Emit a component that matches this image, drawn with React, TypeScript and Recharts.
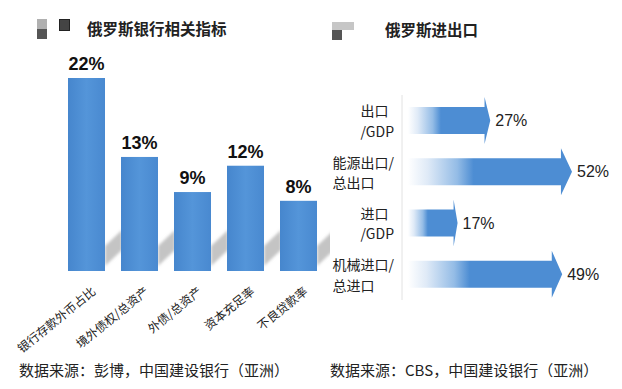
import React from "react";
import { BarChart, Bar, XAxis, YAxis, LabelList } from "recharts";

const bankCategories = ["银行存款外币占比", "境外债权/总资产", "外债/总资产", "资本充足率", "不良贷款率"];
const bankValues = [22, 13, 9, 12, 8];

const tradeCategories = ["出口\n/GDP", "能源出口/\n总出口", "进口\n/GDP", "机械进口/\n总进口"];
const tradeValues = [27, 52, 17, 49];

const bankData = bankCategories.map((name, i) => ({ name, value: bankValues[i] }));
const tradeData = tradeCategories.map((name, i) => ({ name, value: tradeValues[i] }));

const CJK = '"Noto Sans CJK SC", "Liberation Sans", sans-serif';
const LATIN = '"Liberation Sans", "Noto Sans CJK SC", sans-serif';
const BLUE = "#4d8dd3";

let measureCtx: CanvasRenderingContext2D | null = null;
function textWidth(s: string, font: string) {
  if (!measureCtx) measureCtx = document.createElement("canvas").getContext("2d");
  if (!measureCtx) return s.length * 15;
  measureCtx.font = font;
  return measureCtx.measureText(s).width;
}

// cast shadow + bar
const BankBar = (props: any) => {
  const { x, y, width, height } = props;
  const r = x + width;
  const b = y + height;
  return (
    <g>
      <polygon
        points={`${r},${b - 5} ${r},${b - 25} ${r + 17},${b - 41} ${r + 17},${b - 21}`}
        fill="#c4c4c4"
        filter="url(#soft)"
      />
      <rect x={x} y={y} width={width} height={height} fill="url(#barGrad)" />
    </g>
  );
};

const BankTick = (props: any) => {
  const { x, payload } = props;
  return (
    <text
      transform={`translate(${x + 10},${293}) rotate(-39)`}
      textAnchor="end"
      fontSize={12}
      fontFamily={CJK}
      fill="#222"
    >
      {payload.value}
    </text>
  );
};

const ArrowBar = (props: any) => {
  const { x, y, width, height } = props;
  const cy = y + height / 2;
  const x0 = x + 6;
  const tip = x + width;
  const head = Math.max(4, width * 0.065);
  const hb = tip - head;
  const body = 13.5;
  const half = height / 2;
  const d = `M${x0},${cy - body} L${hb},${cy - body} L${hb},${cy - half} L${tip},${cy} L${hb},${cy + half} L${hb},${cy + body} L${x0},${cy + body} Z`;
  return <path d={d} fill="url(#arrowGrad)" />;
};

const TradeTick = (props: any) => {
  const { y, payload } = props;
  const lines: string[] = String(payload.value).split("\n");
  const font = `14px ${CJK}`;
  const w = Math.max(...lines.map((l) => textWidth(l, font)));
  const left = 395 - 322 - w + 1;
  return (
    <g>
      {lines.map((l, i) => (
        <text
          key={i}
          x={left}
          y={y + (i - (lines.length - 1) / 2) * 20.5}
          dominantBaseline="central"
          fontSize={14}
          fontFamily={CJK}
          fill="#222"
        >
          {l}
        </text>
      ))}
    </g>
  );
};

const Icon = ({ left, top, wide }: { left: number; top: number; wide?: boolean }) => (
  <div style={{ position: "absolute", left, top }}>
    <div style={{ position: "absolute", left: 0, top: 0, width: wide ? 22 : 10, height: wide ? 8 : 10, background: wide ? "#c6c6c6" : "#b0b0b0" }} />
    <div style={{ position: "absolute", left: 0, top: wide ? 8 : 10, width: 10, height: 10, background: "#555" }} />
  </div>
);

export default function App() {
  return (
    <div style={{ position: "absolute", left: 0, top: 0, width: 622, height: 389, background: "#fff", overflow: "hidden" }}>
      <svg width={0} height={0} style={{ position: "absolute" }}>
        <defs>
          <filter id="soft" x="-50%" y="-50%" width="200%" height="200%">
            <feGaussianBlur stdDeviation="1.5" />
          </filter>
          <linearGradient id="barGrad" x1="0" y1="0" x2="1" y2="0">
            <stop offset="0" stopColor="#4686cd" />
            <stop offset="0.5" stopColor="#5495d9" />
            <stop offset="1" stopColor="#4989d0" />
          </linearGradient>
          <linearGradient id="arrowGrad" x1="0" y1="0" x2="1" y2="0">
            <stop offset="0" stopColor="#ffffff" />
            <stop offset="0.12" stopColor="#dfeaf7" />
            <stop offset="0.3" stopColor="#94bce6" />
            <stop offset="0.4" stopColor={BLUE} />
            <stop offset="1" stopColor={BLUE} />
          </linearGradient>
        </defs>
      </svg>

      <Icon left={37} top={19} />
      <div style={{ position: "absolute", left: 59, top: 19, width: 9, height: 10, background: "#444", border: "1px solid #222" }} />
      <div style={{ position: "absolute", left: 87, top: 18, fontFamily: CJK, fontSize: 15.5, fontWeight: 700, color: "#222", lineHeight: "20px" }}>
        俄罗斯银行相关指标
      </div>

      <Icon left={332} top={22} wide />
      <div style={{ position: "absolute", left: 385, top: 19, fontFamily: CJK, fontSize: 15.5, fontWeight: 700, color: "#222", lineHeight: "20px" }}>
        俄罗斯进出口
      </div>

      <div style={{ position: "absolute", left: 0, top: 0 }}>
        <BarChart width={330} height={389} data={bankData} margin={{ top: 78, right: 5, bottom: 88, left: 60 }}>
          <XAxis dataKey="name" axisLine={false} tickLine={false} interval={0} height={30} tick={<BankTick />} />
          <YAxis hide domain={[0, 22]} />
          <Bar dataKey="value" barSize={37} shape={<BankBar />} isAnimationActive={false}>
            <LabelList
              dataKey="value"
              position="top"
              offset={8}
              formatter={(v: any) => `${v}%`}
              style={{ fontFamily: LATIN, fontSize: 18, fontWeight: 700, fill: "#111" }}
            />
          </Bar>
        </BarChart>
      </div>

      <div style={{ position: "absolute", left: 320, top: 0 }}>
        <BarChart layout="vertical" width={302} height={389} data={tradeData} margin={{ top: 95, right: 50, bottom: 89, left: 2 }}>
          <XAxis type="number" hide domain={[0, 52]} />
          <YAxis
            type="category"
            dataKey="name"
            width={80}
            axisLine={{ stroke: "#e2e2e2" }}
            tickLine={false}
            tick={<TradeTick />}
          />
          <Bar dataKey="value" barSize={47} shape={<ArrowBar />} isAnimationActive={false}>
            <LabelList
              dataKey="value"
              position="right"
              offset={5}
              formatter={(v: any) => `${v}%`}
              style={{ fontFamily: LATIN, fontSize: 16, fill: "#222" }}
            />
          </Bar>
        </BarChart>
      </div>

      <div style={{ position: "absolute", left: 19, top: 360, fontFamily: CJK, fontSize: 15, color: "#222", lineHeight: "20px", whiteSpace: "nowrap" }}>
        数据来源：彭博，中国建设银行（亚洲）
      </div>
      <div style={{ position: "absolute", left: 330, top: 360, fontFamily: CJK, fontSize: 15, color: "#222", lineHeight: "20px", whiteSpace: "nowrap" }}>
        数据来源：CBS，中国建设银行（亚洲）
      </div>
    </div>
  );
}
